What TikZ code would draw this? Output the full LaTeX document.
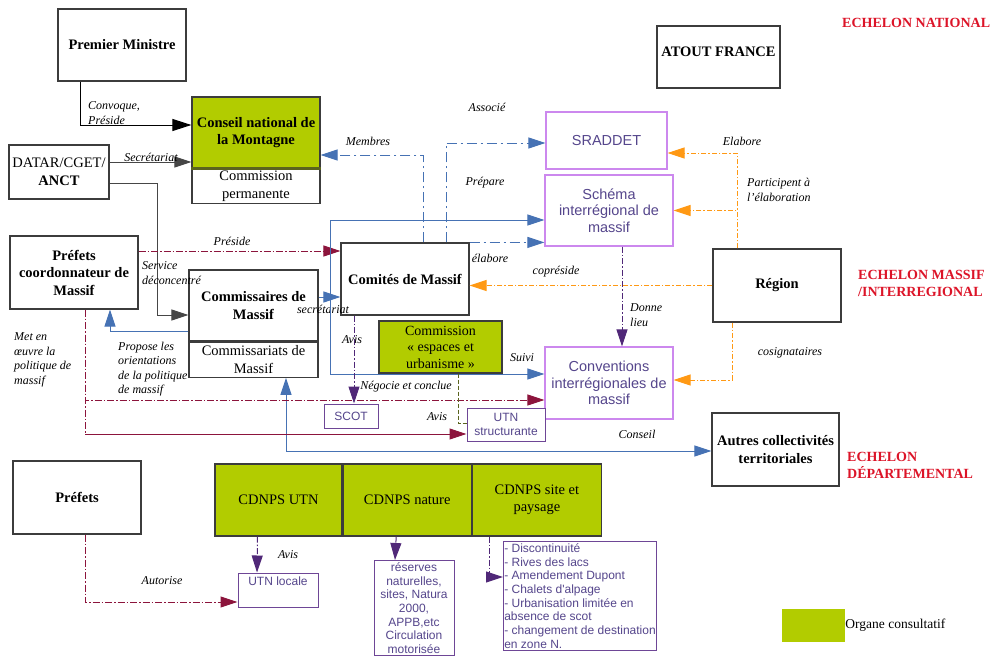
\documentclass[tikz,border=0pt]{standalone}
\usepackage{fontspec}
\setmainfont{Liberation Serif}
\newfontfamily\arialfam{Liberation Sans}
\usetikzlibrary{arrows.meta,positioning}

\definecolor{olivegreen}{RGB}{178,204,0}
\definecolor{olivedark}{RGB}{90,100,30}
\definecolor{boxborder}{RGB}{60,60,60}
\definecolor{grayline}{RGB}{70,70,70}
\definecolor{maroonline}{RGB}{140,20,60}
\definecolor{blueline}{RGB}{70,114,180}
\definecolor{orangeline}{RGB}{255,153,20}
\definecolor{purpleline}{RGB}{80,40,120}
\definecolor{pinkborder}{RGB}{204,136,238}
\definecolor{purpleborder}{RGB}{110,70,150}
\definecolor{sanstext}{RGB}{85,70,140}
\definecolor{echelonred}{RGB}{220,20,40}

\newcommand{\boxfont}{\fontsize{14.5}{17.5}\selectfont}
\newcommand{\echfont}{\fontsize{14}{17}\selectfont}
\newcommand{\lblfont}{\fontsize{12}{14.5}\selectfont\itshape}
\newcommand{\sansbig}{\arialfam\fontsize{14.5}{16.7}\selectfont}
\newcommand{\sanssmall}{\arialfam\fontsize{12}{13.7}\selectfont}

\begin{document}
\begin{tikzpicture}[x=1pt, y=-1pt,
>={Triangle[length=17pt,width=11pt]},
blackbox/.style={rectangle, draw=boxborder, line width=1.2pt, fill=white, align=center, inner sep=1pt, font=\boxfont\bfseries},
consult/.style={rectangle, draw=boxborder, line width=1.2pt, fill=olivegreen, align=center, inner sep=1pt, font=\boxfont},
pinkbox/.style={rectangle, draw=pinkborder, line width=1.2pt, fill=white, align=center, inner sep=1pt, text=sanstext, font=\sansbig},
smallbox/.style={rectangle, draw=purpleborder, line width=1pt, fill=white, align=center, inner sep=1pt, text=sanstext, font=\sanssmall},
echelon/.style={anchor=west, align=left, inner sep=0pt, text=echelonred, font=\echfont\bfseries},
lbl/.style={align=left, inner sep=0pt, font=\lblfont},
grayarrow/.style={grayline, line width=1pt},
maroonarrow/.style={maroonline, line width=1pt, dash pattern=on 7pt off 2pt on 1.5pt off 2pt},
maroonsolid/.style={maroonline, line width=1pt},
bluearrow/.style={blueline, line width=1pt},
bluedash/.style={blueline, line width=1pt, dash pattern=on 10pt off 4pt on 2pt off 4pt},
orangedash/.style={orangeline, line width=1pt, dash pattern=on 5pt off 2pt on 1.5pt off 2pt},
purpledash/.style={purpleline, line width=1pt, dash pattern=on 6pt off 2pt on 1.5pt off 2pt},
olivedash/.style={olivedark, line width=1pt, dash pattern=on 4pt off 2pt},
]
\useasboundingbox (0,0) rectangle (994,656);

% national level
\node at (122,45) [blackbox, minimum width=128pt, minimum height=72pt](pm){Premier Ministre};
\node at (256,132.5) [consult, font=\boxfont\bfseries, minimum width=128pt, minimum height=71pt](cnm){Conseil national de\\la Montagne};
\node [blackbox, font=\boxfont, below=0pt of cnm, minimum width=128pt, minimum height=34pt](cnmp){Commission\\permanente};
\draw[olivedark, line width=2.5pt] (cnm.south west) -- (cnm.south east);
\node at (59,172) [blackbox, font=\boxfont, minimum width=100pt, minimum height=54pt](datar){DATAR/CGET/\\\textbf{ANCT}};
\node at (718.5,57) [blackbox, text depth=11pt, minimum width=123pt, minimum height=62pt](atout){ATOUT FRANCE};
\node at (842,23) [echelon](echnat){ECHELON NATIONAL};

% massif level
\node at (606.5,140.5) [pinkbox, minimum width=121pt, minimum height=57pt](sraddet){SRADDET};
\node at (609,210.5) [pinkbox, minimum width=128pt, minimum height=71pt](schema){Schéma\\interrégional de\\massif};
\node at (405,279) [blackbox, minimum width=128pt, minimum height=72pt](comites){Comités de Massif};
\node at (74,272.5) [blackbox, minimum width=128pt, minimum height=73pt](pcm){Préfets\\coordonnateur de\\Massif};
\node at (253.5,305.5) [blackbox, minimum width=129pt, minimum height=71pt](comm){Commissaires de\\Massif};
\node [blackbox, font=\boxfont, below=0pt of comm, minimum width=129pt, minimum height=35pt](comms){Commissariats de\\Massif};
\node at (440.5,347) [consult, font=\fontsize{14}{16.5}\selectfont, inner sep=0pt, minimum width=123pt, minimum height=52pt](ceu){Commission\\«~espaces et\\urbanisme~»};
\node at (777,285.5) [blackbox, minimum width=128pt, minimum height=73pt](region){Région};
\node at (858,283) [echelon](echmas){ECHELON MASSIF\\/INTERREGIONAL};
\node at (609,383) [pinkbox, minimum width=128pt, minimum height=72pt](conv){Conventions\\interrégionales de\\massif};
\node at (351,416) [smallbox, minimum width=54pt, minimum height=24pt](scot){SCOT};
\node at (506,424.5) [smallbox, minimum width=78pt, minimum height=33pt](utns){UTN\\structurante};
\node at (775.5,449.5) [blackbox, minimum width=127pt, minimum height=73pt](autres){Autres collectivités\\territoriales};

% departement level
\node at (847,465) [echelon](echdep){ECHELON\\DÉPARTEMENTAL};
\node at (77,497.5) [blackbox, minimum width=128pt, minimum height=73pt](prefets){Préfets};
\node at (278.5,500) [consult, minimum width=127pt, minimum height=72pt](cutn){CDNPS UTN};
\node [consult, right=0pt of cutn, minimum width=128pt, minimum height=72pt](cnat){CDNPS nature};
\node [consult, right=0pt of cnat, minimum width=129pt, minimum height=72pt](csite){CDNPS site et\\paysage};
\node at (278,590) [smallbox, text depth=18pt, minimum width=80pt, minimum height=34pt](utnl){UTN locale};
\node at (414,560) [smallbox, anchor=north, inner ysep=2pt, minimum width=80pt](reserves){réserves\\naturelles,\\sites, Natura\\2000,\\APPB,etc\\Circulation\\motorisée};
\node at (503,541) [smallbox, anchor=north west, align=left, inner ysep=2pt, inner xsep=0.5pt, minimum width=153pt](cases){- Discontinuité\\- Rives des lacs\\- Amendement Dupont\\- Chalets d'alpage\\- Urbanisation limitée en\\absence de scot\\- changement de destination\\en zone N.};

% legend
\node at (813.5,625.5) [rectangle, fill=olivegreen, minimum width=63pt, minimum height=33pt](legend){};
\node [right=0pt of legend, inner sep=0pt, font=\fontsize{13.5}{16}\selectfont](legendtext){Organe consultatif};

% connectors national
\draw[black, line width=1pt, -{Triangle[length=19pt,width=12pt]}] ([xshift=-42pt]pm.south) |- ([yshift=7.5pt]cnm.west);
\node at (88,113) [lbl, anchor=west]{Convoque,\\Préside};
\draw[grayarrow, ->] ([yshift=10pt]datar.east) -- ([yshift=10pt]datar.east -| cnm.west);
\node at (151,157) [lbl]{Secrétariat};
\draw[grayarrow, ->] ([yshift=-11pt]datar.east) -- ++(48,0) |- ([yshift=-9.5pt]comm.west);
\node at (142,273) [lbl, anchor=west]{Service\\déconcentré};

% comites de massif
\draw[bluedash, ->] ([xshift=18pt]comites.north) |- ([yshift=-22.5pt]cnm.east);
\node at (368,141) [lbl]{Membres};
\draw[bluedash, ->] ([xshift=41pt]comites.north) |- ([yshift=-2.5pt]sraddet.west);
\node at (487,107) [lbl]{Associé};
\draw[bluedash, ->] (comites.north east) -- (comites.north east -| schema.west);
\node at (490,258) [lbl]{élabore};
\draw[maroonarrow, ->] ([yshift=21.5pt]pcm.east) -- ([yshift=21.5pt]pcm.east -| comites.west);
\node at (232,241) [lbl]{Préside};

% commissaires
\coordinate (bluejoin) at ([shift={(12pt,8.5pt)}]comm.east);
\draw[bluearrow, ->] ([yshift=8.5pt]comm.east) -- ([yshift=8.5pt]comm.east -| comites.west);
\node at (323,309) [lbl]{secrétariat};
\draw[bluearrow, ->] (bluejoin) |- ([yshift=-9.5pt]schema.west);
\node at (485,183) [lbl]{Prépare};
\draw[bluearrow, ->] (bluejoin) |- ([yshift=9pt]conv.west);
\node at (522,358) [lbl]{Suivi};
\draw[bluearrow, ->] ([yshift=-25.5pt]comm.west) -| ([xshift=36pt]pcm.south);
\node at (118,369) [lbl, anchor=west]{Propose les\\orientations\\de la politique\\de massif};
\draw[bluearrow, <->] ([xshift=32.5pt]comms.south) |- ([yshift=-1.5pt]autres.west);
\node at (637,434) [lbl]{Conseil};

% prefets coordonnateurs
\coordinate (pcmx) at ([xshift=11pt]pcm.south);
\coordinate (utnsy) at ([yshift=-9.5pt]utns.west);
\draw[maroonarrow, ->] (pcmx) |- ([yshift=-17pt]conv.west);
\node at (406,387) [lbl]{Négocie et conclue};
\draw[maroonarrow] (pcmx) -- (pcmx |- utnsy);
\draw[maroonsolid, ->] (pcmx |- utnsy) -- (utnsy);
\node at (437,417) [lbl]{Avis};
\node at (14,360) [lbl, anchor=west]{Met en\\œuvre la\\politique de\\massif};

% region
\draw[orangedash, ->] ([xshift=-40pt]region.north) |- ([yshift=-12.5pt]sraddet.east);
\node at (742,141) [lbl]{Elabore};
\draw[orangedash, ->] ([xshift=-40pt]region.north) |- (schema.east);
\node at (747,190) [lbl, anchor=west]{Participent à\\l'élaboration};
\draw[orangedash, ->] (region.west) -- (region.west -| comites.east);
\node at (556,272) [lbl]{copréside};
\draw[orangedash, ->] ([xshift=-45pt]region.south) |- ([yshift=3pt]conv.east);
\node at (790,353) [lbl]{cosignataires};

% avis et schemas
\draw[purpledash, ->] ([xshift=13pt]schema.south) -- ([xshift=13pt]conv.north);
\node at (630,315) [lbl, anchor=west]{Donne\\lieu};
\draw[purpledash, ->] ([xshift=-51pt]comites.south) -- ([xshift=3pt]scot.north);
\node at (352,340) [lbl]{Avis};
\draw[olivedash] ([xshift=17.5pt]ceu.south) |- ([yshift=1.5pt]utns.west);

% cdnps
\draw[purpledash, ->] ([xshift=-21pt]cutn.south) -- ([xshift=-21pt]utnl.north);
\node at (288,555) [lbl]{Avis};
\draw[purpledash, ->] ([xshift=-11pt]cnat.south) -- ([xshift=-19pt]reserves.north);
\draw[purpledash, ->] ([xshift=-47.5pt]csite.south) |- ([yshift=-36pt]cases.north west);
\draw[maroonarrow, ->] ([xshift=8pt]prefets.south) |- ([yshift=-12pt]utnl.west);
\node at (162,581) [lbl]{Autorise};

\end{tikzpicture}
\end{document}
